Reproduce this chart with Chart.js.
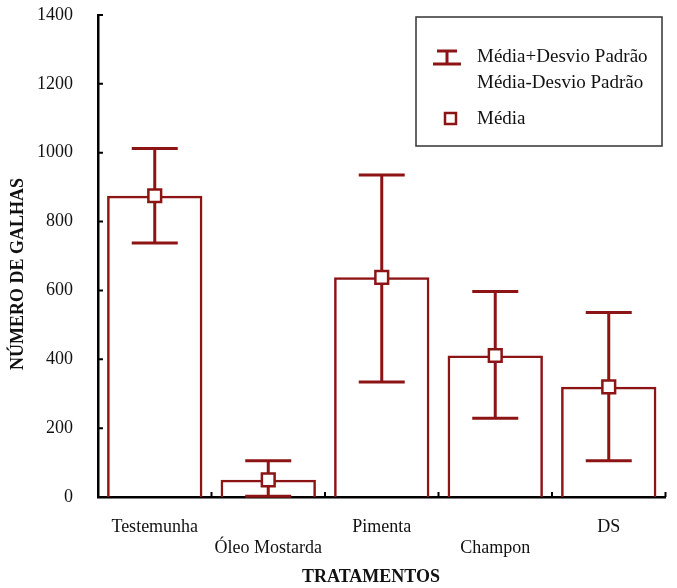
<!DOCTYPE html>
<html>
<head>
<meta charset="utf-8">
<script src="https://cdn.jsdelivr.net/npm/chart.js@4"></script>
<style>
	html, body { margin: 0; padding: 0; background: #fff; }
	#wrap { width: 677px; height: 588px; position: relative; }
</style>
</head>
<body>
<div id="wrap"><canvas id="chart"></canvas></div>
<script>
// values
const tratamentos = ["Testemunha", "Óleo Mostarda", "Pimenta", "Champon", "DS"];
const media = [875, 50, 638, 411, 320];
const mediaMais = [1012, 105, 935, 597, 536];
const mediaMenos = [738, 2, 334, 229, 105];
const yTicks = [0, 200, 400, 600, 800, 1000, 1200, 1400];

const RED = "#8c1414";
const SERIF = "'Liberation Serif', 'Times New Roman', serif";

// error bars, drawn right after the bars so the squares sit on top
const errorBars = {
	id: "errorBars",
	afterDatasetDraw(chart, args) {
		if (args.index !== 0) return;
		const { ctx, scales } = chart;
		const x = scales.x;
		const y = scales.y;
		const cap = 23;
		ctx.save();
		ctx.strokeStyle = RED;
		ctx.lineWidth = 3;
		tratamentos.forEach((_, i) => {
			const px = x.getPixelForValue(i);
			const top = y.getPixelForValue(mediaMais[i]);
			const bot = y.getPixelForValue(mediaMenos[i]);
			ctx.beginPath();
			ctx.moveTo(px, top);
			ctx.lineTo(px, bot);
			ctx.moveTo(px - cap, top);
			ctx.lineTo(px + cap, top);
			ctx.moveTo(px - cap, bot);
			ctx.lineTo(px + cap, bot);
			ctx.stroke();
		});
		ctx.restore();
	},
};

// inward ticks, axis titles (off-centre in the original) and the legend box
const extras = {
	id: "extras",
	afterDraw(chart) {
		const { ctx, scales, chartArea } = chart;
		const x = scales.x;
		const y = scales.y;
		ctx.save();
		ctx.strokeStyle = "#000";
		ctx.lineWidth = 2;
		ctx.beginPath();
		yTicks.forEach((v) => {
			const py = y.getPixelForValue(v);
			ctx.moveTo(chartArea.left, py);
			ctx.lineTo(chartArea.left + 5, py);
		});
		for (let i = 0; i < tratamentos.length; i++) {
			const px = x.getPixelForValue(i + 0.5);
			ctx.moveTo(px, chartArea.bottom);
			ctx.lineTo(px, chartArea.bottom - 5);
		}
		ctx.stroke();

		// axis titles
		ctx.fillStyle = "#111";
		ctx.font = "bold 18px " + SERIF;
		ctx.textAlign = "center";
		ctx.textBaseline = "middle";
		ctx.fillText("TRATAMENTOS", 371, 577);
		ctx.save();
		ctx.translate(18, 274);
		ctx.rotate(-Math.PI / 2);
		ctx.fillText("NÚMERO DE GALHAS", 0, 0);
		ctx.restore();

		// legend
		const lx = 416, ly = 17, lw = 246, lh = 129;
		ctx.strokeStyle = "#333";
		ctx.lineWidth = 1.5;
		ctx.strokeRect(lx, ly, lw, lh);

		ctx.strokeStyle = RED;
		ctx.lineWidth = 3;
		ctx.beginPath();
		ctx.moveTo(437, 51);
		ctx.lineTo(457, 51);
		ctx.moveTo(447, 51);
		ctx.lineTo(447, 64);
		ctx.moveTo(433, 64);
		ctx.lineTo(461, 64);
		ctx.stroke();

		ctx.fillStyle = "#fff";
		ctx.lineWidth = 2.5;
		ctx.fillRect(445, 113, 11, 11);
		ctx.strokeRect(445, 113, 11, 11);

		ctx.fillStyle = "#111";
		ctx.font = "19px " + SERIF;
		ctx.textBaseline = "middle";
		ctx.textAlign = "left";
		ctx.fillText("Média+Desvio Padrão", 477, 57);
		ctx.fillText("Média-Desvio Padrão", 477, 83);
		ctx.fillText("Média", 477, 119);
		ctx.restore();
	},
};

new Chart(document.getElementById("chart"), {
	data: {
		labels: tratamentos,
		datasets: [
			{
				type: "bar",
				label: "Média",
				data: media,
				backgroundColor: "rgba(255,255,255,0)",
				borderColor: RED,
				borderWidth: 2.5,
				barPercentage: 0.84,
				categoryPercentage: 1,
				order: 2,
			},
			{
				type: "line",
				label: "Média",
				data: media,
				showLine: false,
				pointStyle: "rect",
				pointRadius: 9,
				pointHoverRadius: 9,
				pointBackgroundColor: "#fff",
				pointBorderColor: RED,
				pointBorderWidth: 2.5,
				order: 1,
			},
		],
	},
	options: {
		responsive: true,
		maintainAspectRatio: false,
		animation: false,
		layout: { padding: { top: 15, right: 6, left: 0, bottom: 0 } },
		plugins: {
			legend: { display: false },
			tooltip: { enabled: false },
		},
		scales: {
			x: {
				grid: { display: false },
				border: { color: "#000", width: 2.5 },
				afterFit: (scale) => { scale.height = 91; },
				ticks: {
					color: "#111",
					padding: 11,
					maxRotation: 0,
					autoSkip: false,
					font: { family: SERIF, size: 18, lineHeight: 1.2 },
					callback: (v, i) => (i % 2 ? ["", tratamentos[i]] : tratamentos[i]),
				},
			},
			y: {
				min: 0,
				max: 1400,
				grid: { display: false },
				border: { color: "#000", width: 2.5 },
				afterFit: (scale) => {
					scale.width = 98;
					scale.paddingTop = 0;
					scale.paddingBottom = 0;
				},
				ticks: {
					stepSize: 200,
					color: "#111",
					padding: 17,
					font: { family: SERIF, size: 18 },
					callback: (v) => String(v),
				},
			},
		},
	},
	plugins: [errorBars, extras],
});
</script>
</body>
</html>
